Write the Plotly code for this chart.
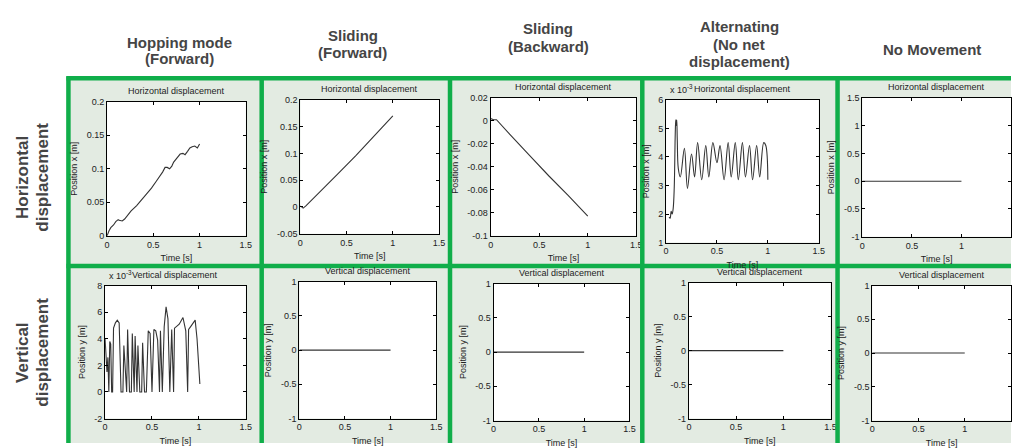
import plotly.graph_objects as go

W, H = 1017, 448

# ---- text -------------------------------------------------------------
col_titles = [["Hopping mode", "(Forward)"], ["Sliding", "(Forward)"], ["Sliding", "(Backward)"],
              ["Alternating", "(No net", "displacement)"], ["No Movement"]]
row_titles = [["Horizontal", "displacement"], ["Vertical", "displacement"]]
top_title = "Horizontal displacement"
bottom_title = "Vertical displacement"
x_label = "Time [s]"
yx_label = "Position x [m]"
yy_label = "Position y [m]"

# ---- data -------------------------------------------------------------
# Hopping mode (forward): horizontal position [m]
hop_x_t = [0.0, 0.007, 0.02, 0.04, 0.07, 0.094, 0.12, 0.13, 0.15, 0.164, 0.19, 0.216, 0.26, 0.32,
           0.37, 0.425, 0.48, 0.53, 0.57, 0.60, 0.627, 0.65, 0.676, 0.70, 0.72, 0.76, 0.79,
           0.82, 0.843, 0.87, 0.895, 0.92, 0.948, 0.976, 1.0]
hop_x = [0.0, 0.003, 0.007, 0.012, 0.016, 0.021, 0.024, 0.023, 0.022, 0.022, 0.025, 0.030, 0.037,
         0.045, 0.053, 0.062, 0.071, 0.081, 0.088, 0.095, 0.102, 0.102, 0.100, 0.104, 0.110,
         0.117, 0.122, 0.123, 0.121, 0.126, 0.131, 0.133, 0.134, 0.131, 0.137]

# Sliding (forward): horizontal position [m]
slf_x_t = [0.0, 0.015, 0.03, 0.06, 0.2, 0.4, 0.6, 0.8, 1.0]
slf_x = [0.002, -0.001, -0.002, 0.002, 0.027, 0.061, 0.096, 0.133, 0.170]

# Sliding (backward): horizontal position [m]
slb_x_t = [0.0, 0.03, 0.06, 0.08, 0.2, 0.4, 0.6, 0.8, 1.0]
slb_x = [0.002, 0.001, 0.001, -0.001, -0.012, -0.030, -0.048, -0.065, -0.083]

# Alternating (no net displacement): horizontal position [x 10^-3 m]
alt_x_t = [0.03, 0.04, 0.05, 0.06, 0.07, 0.08, 0.09, 0.095, 0.10, 0.105, 0.11, 0.12, 0.14,
           0.18, 0.21, 0.25, 0.28, 0.31, 0.35, 0.39, 0.42, 0.46, 0.50, 0.53, 0.57, 0.61, 0.64,
           0.68, 0.71, 0.75, 0.78, 0.82, 0.85, 0.89, 0.92, 0.96, 0.98, 1.0]
alt_x = [1.9, 1.85, 2.1, 2.0, 2.2, 2.9, 4.8, 5.3, 5.1, 5.3, 4.6, 3.6, 3.3,
         4.3, 2.9, 4.1, 3.3, 4.5, 3.2, 4.4, 3.3, 4.5, 3.8, 4.4, 3.2, 4.5, 3.3,
         4.5, 3.2, 4.5, 3.3, 4.4, 3.2, 4.4, 3.3, 4.5, 4.4, 3.2]

# No movement: horizontal position [m]
none_x_t = [0.0, 1.0]
none_x = [0.0, 0.0]

# Hopping mode (forward): vertical position [x 10^-3 m]
hop_y_t = [0.0, 0.01, 0.02, 0.03, 0.04, 0.05, 0.06, 0.07, 0.08, 0.09, 0.11, 0.13, 0.15, 0.17,
           0.19, 0.20, 0.22, 0.23, 0.24, 0.26, 0.28, 0.29, 0.31, 0.32, 0.34, 0.35, 0.37, 0.39,
           0.40, 0.42, 0.44, 0.46, 0.48, 0.50, 0.52, 0.54, 0.56, 0.58, 0.59, 0.61, 0.63, 0.65,
           0.67, 0.69, 0.71, 0.73, 0.74, 0.76, 0.79, 0.83, 0.86, 0.88, 0.89, 0.91, 0.94, 0.96,
           0.98, 1.0, 1.01]
hop_y = [4.0, 3.0, 1.5, 2.6, 0.0, 3.8, 3.6, 0.0, 0.0, 4.8, 5.2, 5.4, 5.2, 0.0,
         0.0, 3.5, 1.0, 0.0, 4.7, 0.0, 0.0, 4.4, 0.0, 4.2, 0.0, 3.5, 0.0, 0.0,
         3.7, 0.0, 0.0, 4.6, 4.4, 0.0, 4.7, 4.6, 3.9, 0.0, 4.6, 0.0, 4.9, 6.4,
         5.5, 0.0, 4.7, 0.0, 4.8, 4.9, 5.1, 5.6, 4.6, 0.0, 4.7, 4.9, 5.2, 5.4,
         4.0, 2.0, 0.6]

# Other modes: vertical position [m]
flat_y_t = [0.0, 1.0]
flat_y = [0.0, 0.0]

x_ticks = [0, 0.5, 1, 1.5]
x_tick_text = ["0", "0.5", "1", "1.5"]

# ---- panel definitions (pixel boxes: left, right, top, bottom) ---------
panels = [
    dict(t=hop_x_t, v=hop_x, box=(105, 245, 99, 236), yr=[0, 0.2],
         yt=[0, 0.05, 0.1, 0.15, 0.2], ytt=["0", "0.05", "0.1", "0.15", "0.2"],
         title=top_title, ylab=yx_label, exp=False, spline=False),
    dict(t=slf_x_t, v=slf_x, box=(300, 440, 97, 234), yr=[-0.05, 0.2],
         yt=[-0.05, 0, 0.05, 0.1, 0.15, 0.2], ytt=["-0.05", "0", "0.05", "0.1", "0.15", "0.2"],
         title=top_title, ylab=yx_label, exp=False, spline=False),
    dict(t=slb_x_t, v=slb_x, box=(492, 639, 95, 236), yr=[-0.1, 0.02],
         yt=[-0.1, -0.08, -0.06, -0.04, -0.02, 0, 0.02],
         ytt=["-0.1", "-0.08", "-0.06", "-0.04", "-0.02", "0", "0.02"],
         title=top_title, ylab=yx_label, exp=False, spline=False),
    dict(t=alt_x_t, v=alt_x, box=(669, 823, 97, 243), yr=[1, 6],
         yt=[1, 2, 3, 4, 5, 6], ytt=["1", "2", "3", "4", "5", "6"],
         title=top_title, ylab=yx_label, exp=True, spline=True),
    dict(t=none_x_t, v=none_x, box=(867, 1017, 95, 237), yr=[-1, 1.5],
         yt=[-1, -0.5, 0, 0.5, 1, 1.5], ytt=["-1", "-0.5", "0", "0.5", "1", "1.5"],
         title=top_title, ylab=yx_label, exp=False, spline=False),
    dict(t=hop_y_t, v=hop_y, box=(103, 245, 287, 423), yr=[-2, 8],
         yt=[-2, 0, 2, 4, 6, 8], ytt=["-2", "0", "2", "4", "6", "8"],
         title=bottom_title, ylab=yy_label, exp=True, spline=False),
    dict(t=flat_y_t, v=flat_y, box=(299, 437, 283, 423), yr=[-1, 1],
         yt=[-1, -0.5, 0, 0.5, 1], ytt=["-1", "-0.5", "0", "0.5", "1"],
         title=bottom_title, ylab=yy_label, exp=False, spline=False),
    dict(t=flat_y_t, v=flat_y, box=(495, 632, 285, 425), yr=[-1, 1],
         yt=[-1, -0.5, 0, 0.5, 1], ytt=["-1", "-0.5", "0", "0.5", "1"],
         title=bottom_title, ylab=yy_label, exp=False, spline=False),
    dict(t=flat_y_t, v=flat_y, box=(692, 835, 284, 423), yr=[-1, 1],
         yt=[-1, -0.5, 0, 0.5, 1], ytt=["-1", "-0.5", "0", "0.5", "1"],
         title=bottom_title, ylab=yy_label, exp=False, spline=False),
    dict(t=flat_y_t, v=flat_y, box=(877, 1017, 287, 425), yr=[-1, 1],
         yt=[-1, -0.5, 0, 0.5, 1], ytt=["-1", "-0.5", "0", "0.5", "1"],
         title=bottom_title, ylab=yy_label, exp=False, spline=False),
]

FONT = "Liberation Sans, Arial, sans-serif"
GREEN = "#10ae4a"
CELL_BG = "#e3ebe2"
small = dict(family=FONT, size=9, color="#222222")

fig = go.Figure()
layout = dict(width=W, height=H, margin=dict(l=0, r=0, t=0, b=0),
              paper_bgcolor="white", plot_bgcolor="white", showlegend=False)
annotations = []
shapes = [dict(type="rect", xref="paper", yref="paper", x0=66 / W, x1=1, y0=0, y1=1 - 75 / H,
               fillcolor=CELL_BG, line=dict(width=0), layer="below")]


def px(x):
    return x / W


def py(y):
    return 1 - y / H


for i, p in enumerate(panels):
    n = i + 1
    xa, ya = ("x" if n == 1 else f"x{n}"), ("y" if n == 1 else f"y{n}")
    l, r, t, b = p["box"]
    # white plotting area
    shapes.append(dict(type="rect", xref="paper", yref="paper", x0=px(l), x1=min(px(r), 1.0),
                       y0=py(b), y1=py(t), fillcolor="white", line=dict(width=0), layer="below"))
    fig.add_trace(go.Scatter(
        x=p["t"], y=p["v"], mode="lines", xaxis=xa, yaxis=ya,
        line=dict(color="#333333", width=1.1, shape="spline" if p["spline"] else "linear"),
        hoverinfo="skip"))
    common = dict(showline=True, mirror="ticks", linecolor="black", linewidth=1,
                  ticks="inside", ticklen=3, tickcolor="black", showgrid=False,
                  zeroline=False, tickfont=small, fixedrange=True)
    layout["xaxis" if n == 1 else f"xaxis{n}"] = dict(
        domain=[px(l), min(px(r), 1.0)], range=[0, 1.5], anchor=ya,
        tickvals=x_ticks, ticktext=x_tick_text,
        title=dict(text=x_label, font=small, standoff=6), **common)
    layout["yaxis" if n == 1 else f"yaxis{n}"] = dict(
        domain=[py(b), py(t)], range=p["yr"], anchor=xa,
        tickvals=p["yt"], ticktext=p["ytt"],
        title=dict(text=p["ylab"], font=small, standoff=7), **common)
    annotations.append(dict(text=p["title"], x=px((l + r) / 2), y=py(t - 11),
                            xref="paper", yref="paper", xanchor="center", yanchor="middle",
                            showarrow=False, font=small))
    if p["exp"]:
        annotations.append(dict(text="x 10<sup>-3</sup>", x=px(l + 2), y=py(t - 11),
                                xref="paper", yref="paper", xanchor="left", yanchor="middle",
                                showarrow=False, font=small))

# column headers, one annotation per line
col_x = [178, 353, 550, 743, 937]
col_line_y = [[38, 55], [31, 49], [24, 42], [22, 40, 58], [46]]
head_font = dict(family=FONT, size=15, color="#454545")
for cx, ys, lines in zip(col_x, col_line_y, col_titles):
    for ly, txt in zip(ys, lines):
        annotations.append(dict(text=f"<b>{txt}</b>", x=px(cx), y=py(ly), xref="paper",
                                yref="paper", xanchor="center", yanchor="middle",
                                showarrow=False, font=head_font))

# row headers (rotated), one annotation per line
row_y = [176, 355]
row_line_x = [19, 39]
row_font = dict(family=FONT, size=17, color="#454545")
for cy, lines in zip(row_y, row_titles):
    for lx, txt in zip(row_line_x, lines):
        annotations.append(dict(text=f"<b>{txt}</b>", x=px(lx), y=py(cy), xref="paper",
                                yref="paper", xanchor="center", yanchor="middle", textangle=-90,
                                showarrow=False, font=row_font))

# green grid
for gx in [66, 261, 451, 645, 842]:
    shapes.append(dict(type="line", xref="paper", yref="paper", x0=px(gx), x1=px(gx),
                       y0=0, y1=py(73), line=dict(color=GREEN, width=4.5), layer="above"))
for gy in [75, 267]:
    shapes.append(dict(type="line", xref="paper", yref="paper", x0=px(64), x1=1,
                       y0=py(gy), y1=py(gy), line=dict(color=GREEN, width=4.5), layer="above"))

layout["annotations"] = annotations
layout["shapes"] = shapes
fig.update_layout(**layout)
fig.write_html("out.html")
